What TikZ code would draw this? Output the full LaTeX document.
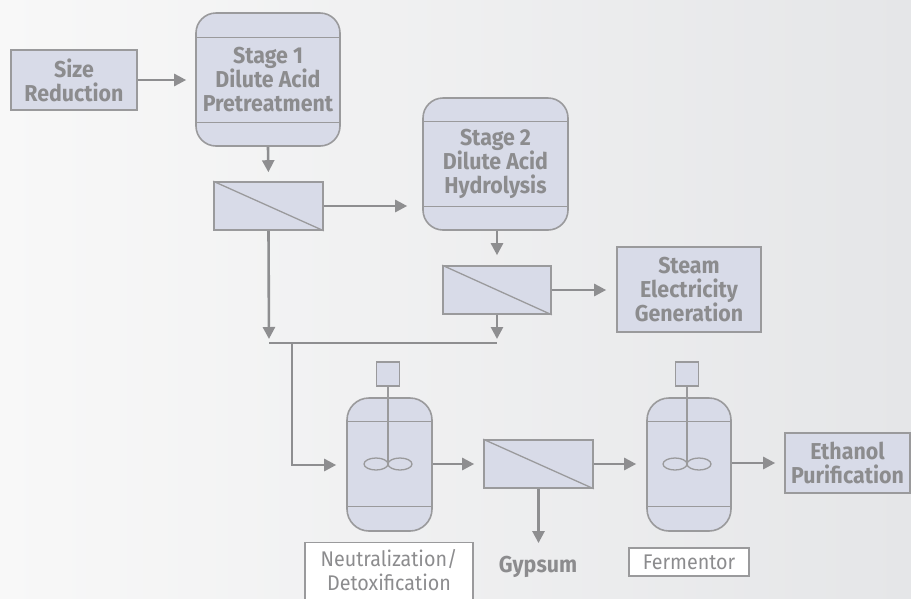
\documentclass[tikz,border=0pt]{standalone}
\usepackage{fontspec}
\setmainfont{Fira Sans}[FakeStretch=0.93]
\usetikzlibrary{arrows.meta,calc}
\definecolor{boxfill}{HTML}{D8DBE8}
\definecolor{boxline}{HTML}{9A9A9C}
\definecolor{arr}{HTML}{8E8E90}
\definecolor{txt}{HTML}{8C8C8E}
\definecolor{bgl}{HTML}{F8F8F8}
\definecolor{bgr}{HTML}{E5E6E8}
\tikzset{
  box/.style={draw=boxline, fill=boxfill, line width=1.6pt, inner sep=0pt, align=center,
    text=txt, font=\bfseries\fontsize{23}{24}\selectfont},
  vessel/.style={box, rounded corners=20pt},
  reactor/.style={box, rounded corners=22pt, minimum width=85pt, minimum height=133pt},
  motor/.style={draw=boxline, fill=boxfill, line width=1.3pt, minimum width=23pt, minimum height=24pt, inner sep=0pt},
  filt/.style={box, minimum width=109pt, minimum height=48pt},
  inner/.style={draw=boxline, line width=1.3pt},
  flow/.style={draw=arr, line width=2.6pt, -{Triangle[length=12pt,width=12pt]}},
  plain/.style={draw=arr, line width=2.6pt},
  lab/.style={draw=boxline, fill=white, line width=1.3pt, align=center, text=txt,
    font=\fontsize{21.2}{24}\selectfont, inner sep=0pt},
  labtext/.style={align=center, text=txt, font=\fontsize{21.2}{24}\selectfont, inner sep=0pt},
  boldlab/.style={text=txt, font=\bfseries\fontsize{23}{24}\selectfont, inner sep=0pt}
}
\begin{document}
\begin{tikzpicture}[x=1pt,y=-1pt]
\useasboundingbox (0,0) rectangle (911,598);
\shade[left color=bgl, right color=bgr] (0,0) rectangle (911,598);

% boxes
\node[box, minimum width=126pt, minimum height=60pt] (sr) at (74,80) {Size\\Reduction};
\node[vessel, minimum width=144pt, minimum height=133pt] (s1) at (268,79.5) {Stage 1\\Dilute Acid\\Pretreatment};
\draw[inner] ($(s1.north west)+(0,25)$) -- ($(s1.north east)+(0,25)$);
\draw[inner] ($(s1.south west)+(0,-24)$) -- ($(s1.south east)+(0,-24)$);
\node[filt] (f1) at (268.5,206) {};
\draw[inner] (f1.north west) -- (f1.south east);

\node[vessel, minimum width=145pt, minimum height=132pt] (s2) at (495.5,164) {Stage 2\\Dilute Acid\\Hydrolysis};
\draw[inner] ($(s2.north west)+(0,24)$) -- ($(s2.north east)+(0,24)$);
\draw[inner] ($(s2.south west)+(0,-24)$) -- ($(s2.south east)+(0,-24)$);
\node[filt, minimum width=108pt] (f2) at (497,290) {};
\draw[inner] (f2.north west) -- (f2.south east);

\node[box, minimum width=144pt, minimum height=85pt] (st) at (689,289.5) {Steam\\Electricity\\Generation};

% neutralization reactor
\node[reactor] (nv) at (389.5,464.5) {};
\draw[inner] ($(nv.north west)+(0,24)$) -- ($(nv.north east)+(0,24)$);
\draw[inner] ($(nv.south west)+(0,-25)$) -- ($(nv.south east)+(0,-25)$);
\node[motor] (nm) at (388,374) {};
\coordinate (ni) at (388,464);
\draw[inner] (nm.south) -- (ni);
\draw[inner] ($(ni)+(-12,0)$) ellipse [x radius=12pt, y radius=6pt];
\draw[inner] ($(ni)+(12,0)$) ellipse [x radius=12pt, y radius=6pt];

\node[filt] (f3) at (538.5,464) {};
\draw[inner] (f3.north west) -- (f3.south east);

% fermentor
\node[reactor, minimum width=84pt] (fv) at (689,464.5) {};
\draw[inner] ($(fv.north west)+(0,24)$) -- ($(fv.north east)+(0,24)$);
\draw[inner] ($(fv.south west)+(0,-25)$) -- ($(fv.south east)+(0,-25)$);
\node[motor] (fm) at (687,374) {};
\coordinate (fi) at (687,464);
\draw[inner] (fm.south) -- (fi);
\draw[inner] ($(fi)+(-12,0)$) ellipse [x radius=12pt, y radius=6pt];
\draw[inner] ($(fi)+(12,0)$) ellipse [x radius=12pt, y radius=6pt];

\node[box, minimum width=125pt, minimum height=60pt] (et) at (847.5,463) {Ethanol\\Purification};

% labels
\node[lab, minimum width=168pt, minimum height=62pt, anchor=north] (nl) at (389,542) {};
\node[labtext] (nlt) at (389,570) {Neutralization/\\Detoxification};
\node[lab, minimum width=120pt, minimum height=28pt] (fl) at (689,562) {Fermentor};
\node[boldlab] (gy) at (538,567) {Gypsum};

% junction
\coordinate (j1) at (269,343);
\coordinate (j2) at (497,343);
\coordinate (jd) at (292,343);
\coordinate (jb) at (292,465);

% flows
\draw[flow, shorten >=9pt] (sr.east) -- (sr.east -| s1.west);
\draw[flow, shorten >=9pt] (s1.south) -- (f1.north);
\draw[flow, shorten >=15pt] (f1.east) -- (f1.east -| s2.west);
\draw[flow, shorten >=10pt] (s2.south -| f2.north) -- (f2.north);
\draw[flow, shorten >=10pt] (f2.east) -- (f2.east -| st.west);
\draw[flow, shorten >=4pt] (f1.south) -- (j1);
\draw[flow, shorten >=4pt] (f2.south) -- (j2);
\draw[plain] (j1) -- (j2);
\draw[flow, shorten >=10pt] (jd) -- (jb) -- (jb -| nv.west);
\draw[flow, shorten >=9pt] (nv.east |- ni) -- (ni -| f3.west);
\draw[flow, shorten >=13pt] (f3.south) -- (gy.north -| f3.south);
\draw[flow, shorten >=10pt] (f3.east) -- (f3.east -| fv.west);
\draw[flow, shorten >=9pt] (fv.east |- et.west) -- (et.west);
\end{tikzpicture}
\end{document}
